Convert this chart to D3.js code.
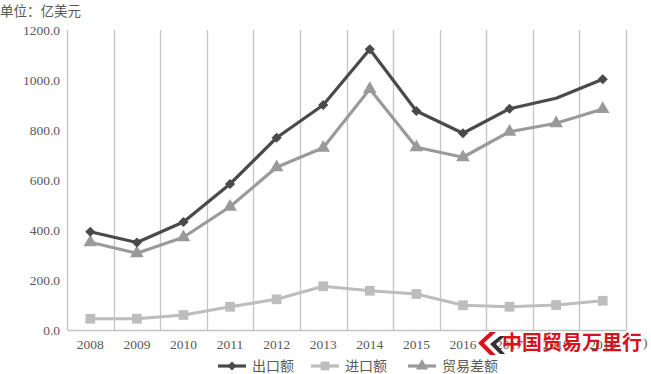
<!DOCTYPE html>
<html><head><meta charset="utf-8">
<script src="https://cdn.jsdelivr.net/npm/d3@7"></script>
<style>body{margin:0;background:#fff}svg{display:block}</style>
</head><body>
<svg id="c" width="651" height="374"></svg>
<script>
const years = ["2008","2009","2010","2011","2012","2013","2014","2015","2016","2017","2018","2019"];
const exportVals = [393,350,432,584,769,900,1123,876,787,885,927,1003];
const importVals = [45,45,60,93,123,175,157,144,99,93,100,117];
const balanceVals = [351,307,371,493,651,729,964,731,691,793,827,884];
const yTicks = [0,200,400,600,800,1000,1200];
const seriesNames = ["出口额","进口额","贸易差额"];
const unitLabel = "单位：亿美元";
const watermark = "中国贸易万里行";

const svg = d3.select("#c");
const L = 67, R = 626, T = 30, B = 330;
const x = d3.scaleBand().domain(years).range([L, R]);
const y = d3.scaleLinear().domain([0, 1200]).range([B, T]);

// unit label
svg.append("text").attr("x", 0).attr("y", 16).attr("font-family", "Noto Sans CJK SC")
  .attr("font-size", 13.5).attr("fill", "#595959").text(unitLabel);

// vertical gridlines at category boundaries
const bounds = years.map(d => x(d)).concat([x(years[years.length-1]) + x.bandwidth()]);
svg.append("g").selectAll("line").data(bounds).join("line")
  .attr("x1", d => Math.round(d)+0.5).attr("x2", d => Math.round(d)+0.5)
  .attr("y1", T).attr("y2", B).attr("stroke", "#c4c4c4").attr("stroke-width", 1.3);

// x axis
const xa = svg.append("g").attr("transform", `translate(0,${B})`)
  .call(d3.axisBottom(x).tickSize(0).tickPadding(9));
xa.select(".domain").attr("stroke", "#c4c4c4").attr("stroke-width", 1.3);
xa.selectAll("text").attr("font-family", "Liberation Serif").attr("font-size", 13.5).attr("fill", "#595959");

// y axis labels
const ya = svg.append("g").attr("transform", `translate(${L},0)`)
  .call(d3.axisLeft(y).tickValues(yTicks).tickSize(0).tickPadding(7).tickFormat(d3.format(".1f")));
ya.select(".domain").remove();
ya.selectAll("text").attr("font-family", "Liberation Serif").attr("font-size", 13.5).attr("fill", "#595959");

const cx = d => x(d) + x.bandwidth()/2;
const series = [
  {name: seriesNames[0], vals: exportVals, color: "#4a4a4a", sym: d3.symbolSquare, size: 52, rot: 45, skip: [10]},
  {name: seriesNames[1], vals: importVals, color: "#bdbdbd", sym: d3.symbolSquare, size: 95, rot: 0, skip: []},
  {name: seriesNames[2], vals: balanceVals, color: "#9a9a9a", sym: d3.symbolTriangle, size: 80, rot: 0, skip: []}
];
const line = d3.line().x((d,i) => cx(years[i])).y(d => y(d));
// draw in order: import, balance, export on top
[series[1], series[2], series[0]].forEach(s => {
  svg.append("path").datum(s.vals).attr("d", line).attr("fill", "none")
    .attr("stroke", s.color).attr("stroke-width", 3.2).attr("stroke-linejoin", "round");
  svg.append("g").selectAll("path").data(s.vals.map((v,i)=>({v,i})).filter(d => !s.skip.includes(d.i))).join("path")
    .attr("d", d3.symbol().type(s.sym).size(s.size))
    .attr("transform", d => `translate(${cx(years[d.i])},${y(d.v)}) rotate(${s.rot})`)
    .attr("fill", s.color);
});

// legend
const legX = [218, 311, 408];
const lg = svg.append("g");
series.forEach((s, i) => {
  const g = lg.append("g").attr("transform", `translate(${legX[i]},366)`);
  g.append("line").attr("x1", 0).attr("x2", 28).attr("stroke", s.color).attr("stroke-width", 3.2);
  g.append("path").attr("d", d3.symbol().type(s.sym).size(s.size*0.8))
    .attr("transform", `translate(14,0) rotate(${s.rot})`).attr("fill", s.color);
  g.append("text").attr("x", 34).attr("y", 5).attr("font-family", "Noto Sans CJK SC")
    .attr("font-size", 14).attr("fill", "#595959").text(s.name);
});

// watermark overlay
const wm = svg.append("g");
wm.append("path").attr("d", "M490,332 L478,343 L490,355 L496,355 L484,343 L496,332 Z").attr("fill", "#d7141c");
wm.append("path").attr("d", "M500,336 L490,344 L500,354 L505,354 L496,344 L505,336 Z").attr("fill", "#333");
wm.append("text").attr("x", 502).attr("y", 350).attr("font-family", "Noto Sans CJK SC").attr("font-weight", "bold")
  .attr("font-size", 20).attr("fill", "#d7141c").text(watermark);
wm.append("text").attr("x", 643).attr("y", 347).attr("font-family", "Liberation Serif")
  .attr("font-size", 13.5).attr("fill", "#595959").text(")");
</script>
</body></html>
